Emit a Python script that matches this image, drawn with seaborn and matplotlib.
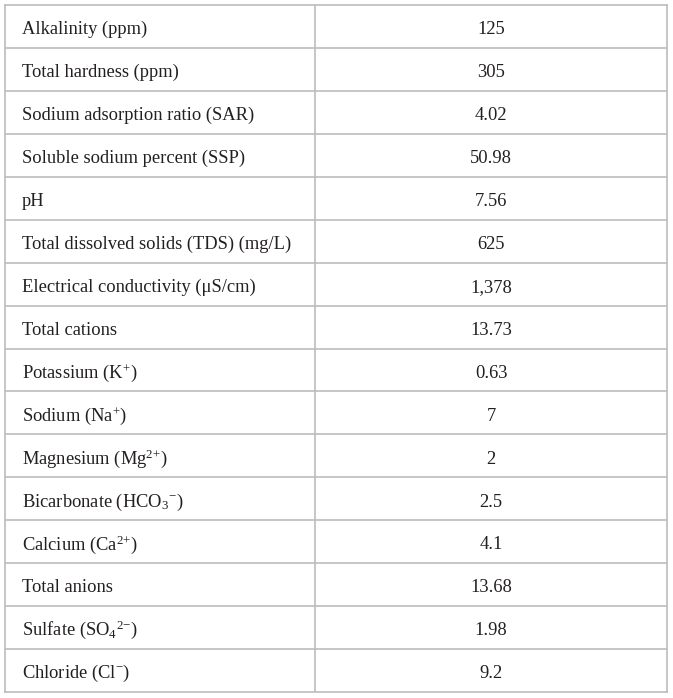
import numpy as np
import pandas as pd
import matplotlib
matplotlib.use("Agg")
import matplotlib.pyplot as plt
import seaborn as sns

sns.set_theme(style="white")
plt.rcParams['font.family'] = ['Liberation Serif', 'DejaVu Serif']
plt.rcParams['mathtext.fontset'] = 'custom'
plt.rcParams['mathtext.rm'] = 'Liberation Serif'
plt.rcParams['mathtext.it'] = 'Liberation Serif:italic'
plt.rcParams['mathtext.bf'] = 'Liberation Serif:bold'

# table data
parameters = [
    "Alkalinity (ppm)",
    "Total hardness (ppm)",
    "Sodium adsorption ratio (SAR)",
    "Soluble sodium percent (SSP)",
    "pH",
    "Total dissolved solids (TDS) (mg/L)",
    "Electrical conductivity (\u03bcS/cm)",
    "Total cations",
    "Potassium (K$^{{+}}$)",
    "Sodium (Na$^{{+}}$)",
    "Magnesium (Mg$^{2{+}}$)",
    "Bicarbonate (HCO$_{3}$$^{{-}}$)",
    "Calcium (Ca$^{2{+}}$)",
    "Total anions",
    "Sulfate (SO$_{4}$$^{2{-}}$)",
    "Chloride (Cl$^{{-}}$)",
]
values = ["125", "305", "4.02", "50.98", "7.56", "625", "1,378", "13.73",
          "0.63", "7", "2", "2.5", "4.1", "13.68", "1.98", "9.2"]

table = pd.DataFrame({"Parameter": parameters, "Value": values})

line_col = "#bcbcbc"
text_col = "#231f20"

fig = plt.figure(figsize=(6.73, 6.98), dpi=100)
ax = fig.add_axes([5 / 673, 1 - 692 / 698, 662 / 673, 687 / 698])

n = len(table)
ax.set_xlim(0, 662)
ax.set_ylim(n, 0)

# grid lines
for i in range(1, n):
    ax.axhline(i, color=line_col, lw=1.2)
ax.axvline(310, color=line_col, lw=1.2)
for s in ax.spines.values():
    s.set_color(line_col)
    s.set_linewidth(1.2)
ax.set_xticks([])
ax.set_yticks([])

# same baseline in every row, so superscripts don't shift the text
for i, row in table.iterrows():
    ax.text(17, i + 0.68, row["Parameter"], ha="left", va="baseline",
            fontsize=13.3, color=text_col)
    ax.text(486, i + 0.68, row["Value"], ha="center", va="baseline",
            fontsize=13.3, color=text_col)

fig.savefig("out.png", dpi=100, facecolor="white")
